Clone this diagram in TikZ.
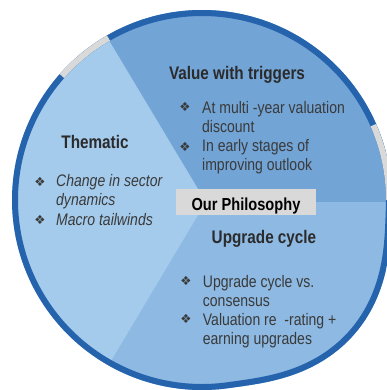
\documentclass[tikz,border=0pt]{standalone}
\usepackage{fontspec}
\setmainfont{Liberation Sans}[FakeStretch=0.84]
\newfontfamily\symfont{DejaVu Sans}
\definecolor{cThem}{HTML}{A4CBEC}
\definecolor{cVal}{HTML}{72A4D6}
\definecolor{cUpg}{HTML}{8DB9E2}
\definecolor{cBorder}{HTML}{2563AC}
\definecolor{cGray}{HTML}{D9D9D9}
\definecolor{cText}{HTML}{3A3A3A}
\definecolor{cTitle}{HTML}{2B2B2B}
\tikzset{
  title/.style={anchor=base, inner sep=0, text=cTitle, font=\fontsize{18.2bp}{20bp}\selectfont\bfseries},
  body/.style={anchor=base west, inner sep=0, text=cText, align=left, font=\fontsize{16.7bp}{19bp}\selectfont},
  ibody/.style={body, font=\fontsize{16.7bp}{19bp}\selectfont\itshape},
  bul/.style={inner sep=0, text=cText, font=\fontsize{12.5bp}{12bp}\selectfont\symfont},
  rim/.style={line width=6bp, cBorder},
  gap/.style={line width=6bp, cGray},
  declare function={bump(\t)=13*max(0,1-((\t+42)/40)^2)*max(0,1-((\t+42)/40)^2);
                    rr(\t)=187+bump(\t);}
}
\begin{document}
\begin{tikzpicture}[x=1bp,y=-1bp]
\useasboundingbox (0,0) rectangle (387,390);
\begin{scope}
  \clip plot[domain=-180:180, samples=241, smooth cycle] ({202+(rr(\x)+3)*cos(\x)}, {200-(rr(\x)+3)*sin(\x)});
  \fill[cThem] (-10,-10) rectangle (420,420);
  \fill[cVal] (206,202) -- (55,-50) -- (600,-50) -- (600,203) -- cycle;
  \fill[cUpg] (206,202) -- (600,203) -- (600,450) -- (58,450) -- cycle;
\end{scope}
\draw[rim] plot[domain=-180:180, samples=241, smooth cycle] ({202+rr(\x)*cos(\x)}, {200-rr(\x)*sin(\x)});
\draw[gap] plot[domain=120:138.5, samples=20, smooth] ({202+rr(\x)*cos(\x)}, {200-rr(\x)*sin(\x)});
\draw[gap] plot[domain=0:23.6, samples=20, smooth] ({202+rr(\x)*cos(\x)}, {200-rr(\x)*sin(\x)});

% Value with triggers
\node[title] (tval) at (237,79) {Value with triggers};
\node[bul] (bv1) at (185,107) {❖};
\node[body] (v1) at (202,132) {At multi -year valuation\\discount};
\node[bul] (bv2) at (185,146.5) {❖};
\node[body] (v2) at (202,170) {In early stages of\\improving outlook};

% Thematic
\node[title] (tthem) at (95,148) {Thematic};
\node[bul] (bt1) at (40,181.5) {❖};
\node[ibody] (t1) at (56,205.6) {Change in sector\\dynamics};
\node[bul] (bt2) at (40,220) {❖};
\node[ibody] (t2) at (56,225) {Macro tailwinds};

% Upgrade cycle
\node[title] (tupg) at (264,243.3) {Upgrade cycle};
\node[bul] (bu1) at (186,281) {❖};
\node[body] (u1) at (202.7,306) {Upgrade cycle vs.\\consensus};
\node[bul] (bu2) at (186,319) {❖};
\node[body] (u2) at (202.7,344) {Valuation re\ \ -rating +\\earning upgrades};

% center box
\node[fill=cGray, inner sep=0, minimum width=140bp, text height=21bp, text depth=5bp, text=black,
      font=\fontsize{17.4bp}{20bp}\selectfont\bfseries] (phil) at (246,202) {Our Philosophy};
\end{tikzpicture}
\end{document}
